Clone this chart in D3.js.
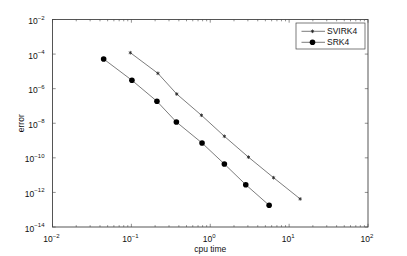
<!DOCTYPE html>
<html>
<head>
<meta charset="utf-8">
<script src="https://cdn.jsdelivr.net/npm/d3@7"></script>
<style>
body { margin: 0; background: #fff; }
text { font-family: "Liberation Sans", Arial, sans-serif; fill: #111; }
</style>
</head>
<body>
<div id="chart"></div>
<script>
var width = 407, height = 256;

// data
var svirkTime = [0.097, 0.217, 0.376, 0.773, 1.51, 3.05, 6.35, 13.8];
var svirkError = [1.2e-4, 7.7e-6, 4.9e-7, 2.9e-8, 1.76e-9, 1.1e-10, 7.1e-12, 4.2e-13];
var srkTime = [0.0445, 0.1016, 0.211, 0.372, 0.787, 1.51, 2.82, 5.58];
var srkError = [5.2e-5, 3.05e-6, 1.86e-7, 1.18e-8, 7.2e-10, 4.4e-11, 2.8e-12, 1.8e-13];
var xExp = [-2, -1, 0, 1, 2];
var yExp = [-14, -12, -10, -8, -6, -4, -2];
var seriesNames = ["SVIRK4", "SRK4"];

var margin = {left: 52.5, right: 39, top: 19.5, bottom: 29};
var lineColor = "#444";

var svg = d3.select("#chart").append("svg")
  .attr("width", width)
  .attr("height", height);

var x = d3.scaleLog()
  .domain([1e-2, 1e2])
  .range([margin.left, width - margin.right]);

var y = d3.scaleLog()
  .domain([1e-14, 1e-2])
  .range([height - margin.bottom, margin.top]);

var x0 = x.range()[0], x1 = x.range()[1];
var y0 = y.range()[0], y1 = y.range()[1];

// minor x ticks
var minorX = [];
xExp.slice(0, -1).forEach(function(e) {
  for (var k = 2; k < 10; k++) minorX.push(k * Math.pow(10, e));
});

var ticks = svg.append("g")
  .attr("stroke", lineColor)
  .attr("stroke-width", 0.6);

minorX.forEach(function(v) {
  ticks.append("line").attr("x1", x(v)).attr("x2", x(v)).attr("y1", y0).attr("y2", y0 - 1.8);
  ticks.append("line").attr("x1", x(v)).attr("x2", x(v)).attr("y1", y1).attr("y2", y1 + 1.8);
});
xExp.forEach(function(e) {
  var v = Math.pow(10, e);
  ticks.append("line").attr("x1", x(v)).attr("x2", x(v)).attr("y1", y0).attr("y2", y0 - 3.2);
  ticks.append("line").attr("x1", x(v)).attr("x2", x(v)).attr("y1", y1).attr("y2", y1 + 3.2);
});
yExp.forEach(function(e) {
  var v = Math.pow(10, e);
  ticks.append("line").attr("y1", y(v)).attr("y2", y(v)).attr("x1", x0).attr("x2", x0 + 3.2);
  ticks.append("line").attr("y1", y(v)).attr("y2", y(v)).attr("x1", x1).attr("x2", x1 - 3.2);
});

// box
svg.append("rect")
  .attr("x", x0).attr("y", y1)
  .attr("width", x1 - x0).attr("height", y0 - y1)
  .attr("fill", "none")
  .attr("stroke", lineColor)
  .attr("stroke-width", 0.9);

// tick labels
function powLabel(sel, e) {
  sel.append("tspan").text("10");
  sel.append("tspan")
    .attr("dy", -4.5)
    .attr("font-size", 6)
    .text(e < 0 ? "\u2212" + (-e) : e);
}

xExp.forEach(function(e) {
  var t = svg.append("text")
    .attr("x", x(Math.pow(10, e)) - 1)
    .attr("y", y0 + 15)
    .attr("font-size", 8.5)
    .attr("text-anchor", "middle");
  powLabel(t, e);
});

yExp.forEach(function(e) {
  var t = svg.append("text")
    .attr("x", x0 - 8)
    .attr("y", y(Math.pow(10, e)) + 4.5)
    .attr("font-size", 8.5)
    .attr("text-anchor", "end");
  powLabel(t, e);
});

// axis labels
svg.append("text")
  .attr("x", (x0 + x1) / 2)
  .attr("y", height - 4.5)
  .attr("text-anchor", "middle")
  .attr("font-size", 8.5)
  .text("cpu time");

svg.append("text")
  .attr("transform", "translate(24," + ((y0 + y1) / 2) + ") rotate(-90)")
  .attr("text-anchor", "middle")
  .attr("font-size", 8.5)
  .text("error");

// lines
var line = d3.line()
  .x(function(d) { return x(d[0]); })
  .y(function(d) { return y(d[1]); });

var svirk = d3.zip(svirkTime, svirkError);
var srk = d3.zip(srkTime, srkError);

[svirk, srk].forEach(function(s) {
  svg.append("path")
    .datum(s)
    .attr("d", line)
    .attr("fill", "none")
    .attr("stroke", lineColor)
    .attr("stroke-width", 0.7);
});

var star = d3.symbol().type(d3.symbolAsterisk).size(9);

svg.selectAll(".star")
  .data(svirk)
  .enter().append("path")
    .attr("class", "star")
    .attr("transform", function(d) { return "translate(" + x(d[0]) + "," + y(d[1]) + ")"; })
    .attr("d", star)
    .attr("fill", "none")
    .attr("stroke", "#222")
    .attr("stroke-width", 0.8);

svg.selectAll(".dot")
  .data(srk)
  .enter().append("circle")
    .attr("class", "dot")
    .attr("cx", function(d) { return x(d[0]); })
    .attr("cy", function(d) { return y(d[1]); })
    .attr("r", 2.8)
    .attr("fill", "#000");

// legend
var legend = svg.append("g")
  .attr("transform", "translate(296,23)");

legend.append("rect")
  .attr("width", 69)
  .attr("height", 26)
  .attr("fill", "#fff")
  .attr("stroke", lineColor)
  .attr("stroke-width", 0.7);

var item = legend.selectAll(".item")
  .data(seriesNames)
  .enter().append("g")
    .attr("class", "item")
    .attr("transform", function(d, i) { return "translate(0," + (8.3 + i * 11) + ")"; });

item.append("line")
  .attr("x1", 5.5).attr("x2", 29)
  .attr("stroke", lineColor)
  .attr("stroke-width", 0.7);

item.filter(function(d, i) { return i === 0; })
  .append("path")
    .attr("transform", "translate(16.5,0)")
    .attr("d", star)
    .attr("fill", "none")
    .attr("stroke", "#222")
    .attr("stroke-width", 0.8);

item.filter(function(d, i) { return i === 1; })
  .append("circle")
    .attr("cx", 16.5)
    .attr("r", 2.8)
    .attr("fill", "#000");

item.append("text")
  .attr("x", 31)
  .attr("y", 3)
  .attr("font-size", 8.5)
  .text(function(d) { return d; });
</script>
</body>
</html>
